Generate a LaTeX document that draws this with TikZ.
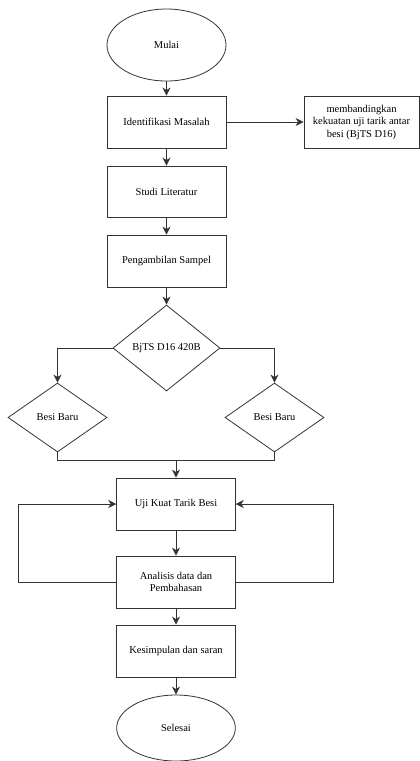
\documentclass[tikz,border=0pt]{standalone}
\usepackage{fontspec}
\setmainfont{Liberation Serif}
\usetikzlibrary{shapes.geometric,arrows.meta}
\begin{document}
\begin{tikzpicture}[x=1pt,y=-1pt,
  every node/.style={font=\fontsize{10.5}{12.5}\selectfont, align=center, inner sep=0pt},
  box/.style={draw=black!80, line width=0.8pt, minimum width=119pt, minimum height=52pt},
  oval/.style={draw=black!80, line width=0.8pt, ellipse, minimum width=119pt},
  dia/.style={draw=black!80, line width=0.8pt, diamond},
  conn/.style={draw=black!80, line width=0.8pt},
  arr/.style={conn, -{Stealth[length=8pt,width=8pt,inset=2.5pt]}}]
\useasboundingbox (0,0) rectangle (420,761);
\node[oval, minimum height=72pt] (mulai) at (166.5,45) {Mulai};
\node[box] (ident) at (166.5,122) {Identifikasi Masalah};
\node[box, minimum width=115pt] (banding) at (361.5,122) {membandingkan\\kekuatan uji tarik antar\\besi (BjTS D16)};
\node[box, minimum height=51pt] (studi) at (166.5,191.5) {Studi Literatur};
\node[box] (ambil) at (166.5,261) {Pengambilan Sampel};
\node[dia, minimum width=107pt, minimum height=86pt, aspect=1.244] (bjts) at (166.5,348) {BjTS D16 420B};
\node[dia, minimum width=99pt, minimum height=69pt, aspect=1.435] (bl) at (57.5,417.5) {Besi Baru};
\node[dia, minimum width=99pt, minimum height=69pt, aspect=1.435] (br) at (274.5,417.5) {Besi Baru};
\coordinate (merge) at (176,460.7);
\node[box, minimum width=118.7pt] (uji) at (176,504) {Uji Kuat Tarik Besi};
\node[box, minimum width=118.7pt] (anal) at (176,582) {Analisis data dan\\Pembahasan};
\node[box, minimum width=118.7pt] (kes) at (176,651) {Kesimpulan dan saran};
\node[oval, minimum width=118.7pt, minimum height=66pt] (sel) at (176,728) {Selesai};
\coordinate (lloop) at (18.3,582);
\coordinate (rloop) at (333.7,582);

\draw[arr] (mulai) -- (ident);
\draw[arr] (ident) -- (banding);
\draw[arr] (ident) -- (studi);
\draw[arr] (studi) -- (ambil);
\draw[arr] (ambil) -- (bjts);
\draw[arr] (bjts.west) -| (bl.north);
\draw[arr] (bjts.east) -| (br.north);
\draw[conn] (bl.south) |- (merge) -| (br.south);
\draw[arr] (merge) -- (uji.north);
\draw[arr] (uji) -- (anal);
\draw[arr] (anal) -- (kes);
\draw[arr] (kes) -- (sel);
\draw[arr] (anal.west) -- (lloop) |- (uji.west);
\draw[arr] (anal.east) -- (rloop) |- (uji.east);
\end{tikzpicture}
\end{document}
